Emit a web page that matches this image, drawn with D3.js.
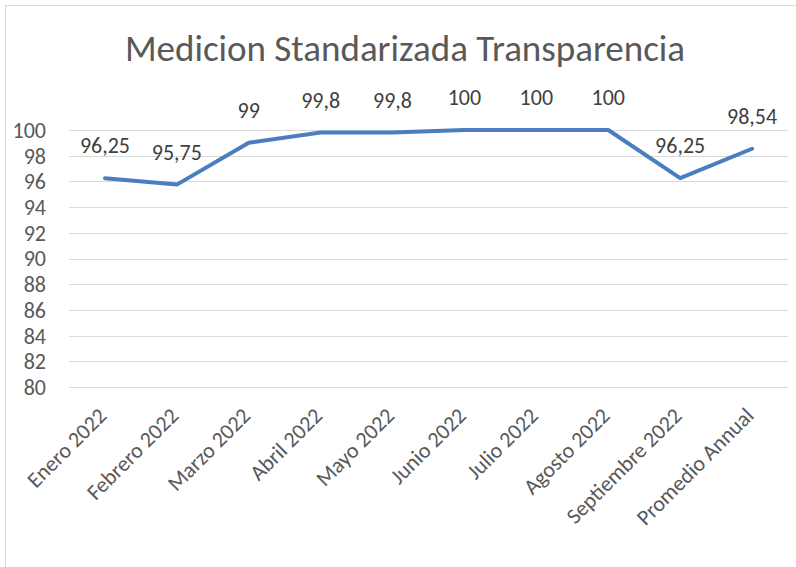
<!DOCTYPE html>
<html>
<head>
<meta charset="utf-8">
<script src="https://cdn.jsdelivr.net/npm/d3@7"></script>
<style>
  body { margin: 0; background: #fff; }
  svg { display: block; }
</style>
</head>
<body>
<svg id="chart" width="796" height="567"></svg>
<script>
// chart data
const categories = ["Enero 2022", "Febrero 2022", "Marzo 2022", "Abril 2022", "Mayo 2022",
    "Junio 2022", "Julio 2022", "Agosto 2022", "Septiembre 2022", "Promedio Annual"];
const values = [96.25, 95.75, 99, 99.8, 99.8, 100, 100, 100, 96.25, 98.54];
const labels = ["96,25", "95,75", "99", "99,8", "99,8", "100", "100", "100", "96,25", "98,54"];
const yTicks = [80, 82, 84, 86, 88, 90, 92, 94, 96, 98, 100];
const title = "Medicion Standarizada Transparencia";

const svg = d3.select("#chart"),
    width = +svg.attr("width"),
    height = +svg.attr("height");

const font = "Carlito, Lato, 'Open Sans', sans-serif";
const textColor = "#595959";

// outer chart border (right/bottom run off the picture)
svg.append("rect")
    .attr("x", 5.5).attr("y", 5.5)
    .attr("width", width + 10).attr("height", height + 10)
    .attr("fill", "none")
    .attr("stroke", "#d9d9d9")
    .attr("stroke-width", 1);

const margin = { left: 69, right: 8, top: 130, bottom: 180 };

const x = d3.scaleBand()
    .domain(categories)
    .range([margin.left, width - margin.right]);

const y = d3.scaleLinear()
    .domain([80, 100])
    .range([height - margin.bottom, margin.top]);

// gridlines
svg.append("g")
    .selectAll("line")
    .data(yTicks)
    .enter().append("line")
    .attr("x1", margin.left)
    .attr("x2", width - margin.right)
    .attr("y1", d => Math.round(y(d)) + 0.5)
    .attr("y2", d => Math.round(y(d)) + 0.5)
    .attr("stroke", "#d9d9d9")
    .attr("stroke-width", 1);

// y axis labels
svg.append("g")
    .selectAll("text")
    .data(yTicks)
    .enter().append("text")
    .attr("x", 46)
    .attr("y", d => y(d))
    .attr("dy", "0.36em")
    .style("text-anchor", "end")
    .style("font-family", font)
    .style("font-size", "22px")
    .style("fill", textColor)
    .text(d => d);

// x axis labels, rotated
svg.append("g")
    .selectAll("text")
    .data(categories)
    .enter().append("text")
    .attr("transform", d => `translate(${x(d) + x.bandwidth() / 2 + 3},${y(80) + 30}) rotate(-45)`)
    .style("text-anchor", "end")
    .style("font-family", font)
    .style("font-size", "22px")
    .style("fill", textColor)
    .text(d => d);

// line
const line = d3.line()
    .x((d, i) => x(categories[i]) + x.bandwidth() / 2)
    .y(d => y(d));

svg.append("path")
    .datum(values)
    .attr("d", line)
    .attr("fill", "none")
    .attr("stroke", "#4a7ebf")
    .attr("stroke-width", 4)
    .attr("stroke-linejoin", "round")
    .attr("stroke-linecap", "round");

// data labels
svg.append("g")
    .selectAll("text")
    .data(values)
    .enter().append("text")
    .attr("x", (d, i) => x(categories[i]) + x.bandwidth() / 2)
    .attr("y", d => y(d) - 25)
    .style("text-anchor", "middle")
    .style("font-family", font)
    .style("font-size", "22px")
    .style("fill", "#404040")
    .text((d, i) => labels[i]);

// title
svg.append("text")
    .attr("x", 405)
    .attr("y", 61)
    .style("text-anchor", "middle")
    .style("font-family", font)
    .style("font-size", "37px")
    .style("fill", textColor)
    .text(title);
</script>
</body>
</html>
